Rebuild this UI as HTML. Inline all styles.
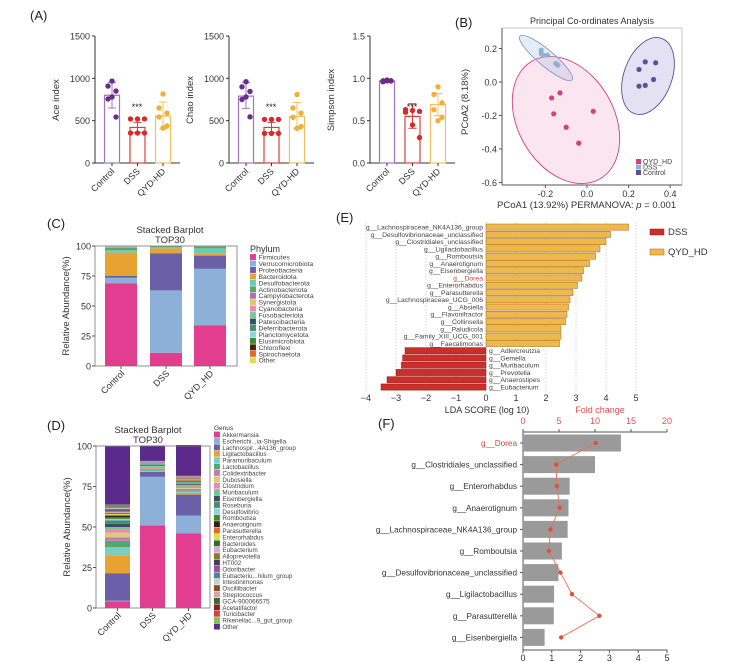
<!DOCTYPE html>
<html><head><meta charset="utf-8">
<style>
html,body{margin:0;padding:0;background:#fff;}
svg{display:block;font-family:"Liberation Sans",Arial,sans-serif;}
</style></head>
<body>
<svg id="fig" width="732" height="662" viewBox="0 0 732 662" xmlns="http://www.w3.org/2000/svg">
<rect x="0" y="0" width="732" height="662" fill="#fff"/>
</svg>
<script>
// ---------- Panel A data ----------
const alphaGroups = ['Control','DSS','QYD-HD'];
const aceMeans = [800,420,555];
const aceLo = [650,360,400];
const aceHi = [950,480,720];
const acePoints = [[968,909,850,780,756,543],[520,520,520,354,354,354],[815,650,590,543,437,413]];
const aceTicks = [0,500,1000,1500];
const chaoMeans = [790,420,550];
const chaoLo = [645,360,400];
const chaoHi = [950,480,715];
const chaoPoints = [[960,900,845,780,750,545],[515,515,515,350,350,350],[810,650,590,540,430,410]];
const chaoTicks = [0,500,1000,1500];
const simpMeans = [0.97,0.55,0.69];
const simpLo = [0.96,0.41,0.56];
const simpHi = [0.98,0.70,0.82];
const simpPoints = [[0.98,0.97,0.97,0.97,0.96,0.97],[0.63,0.62,0.61,0.60,0.45,0.30],[0.90,0.81,0.71,0.63,0.54,0.50]];
const simpTicks = [0,0.5,1.0,1.5];
const simpTickLabels = ['0.0','0.5','1.0','1.5'];
// ---------- Panel B data ----------
const pcoaGroups = ['QYD_HD','DSS','Control'];
const pcoaX = [[-0.17,-0.13,-0.16,-0.10,0.03,-0.04],[-0.22,-0.22,-0.21,-0.19,-0.15,-0.14],[0.25,0.28,0.33,0.32,0.25,0.28]];
const pcoaY = [[-0.095,-0.065,-0.19,-0.27,-0.175,-0.365],[0.19,0.17,0.16,0.16,0.11,0.10],[0.075,0.12,0.115,0.015,-0.025,-0.02]];
const pcoaXTicks = [-0.2,0.0,0.2,0.4];
const pcoaYTicks = [0.2,0.0,-0.2,-0.4,-0.6];
// ---------- Panel C data ----------
const stackGroups = ['Control','DSS','QYD_HD'];
const phyla = ['Firmicutes','Verrucomicrobiota','Proteobacteria','Bacteroidota','Desulfobacterota','Actinobacteriota','Campylobacterota','Synergistota','Cyanobacteria','Fusobacteriota','Patescibacteria','Deferribacterota','Planctomycetota','Elusimicrobiota','Chloroflexi','Spirochaetota','Other'];
const phylumControl = [69,4.5,1.5,19.5,2,2,0.5,0.3,0.2,0.2,0.1,0.1,0.1,0.0,0.0,0.0,0.0];
const phylumDSS = [11,52,31,4,1.2,0.5,0.1,0.1,0.1,0,0,0,0,0,0,0,0];
const phylumQYD = [34,47,11,2,4,1.5,0.2,0.1,0.1,0.1,0,0,0,0,0,0,0];
// ---------- Panel D data ----------
const genera = ['Akkermansia','Escherichi...ia-Shigella','Lachnospir...4A136_group','Ligilactobacillus','Paramuribaculum','Lactobacillus','Colidextribacter','Dubosiella','Clostridium','Muribaculum','Eisenbergiella','Roseburia','Desulfovibrio','Romboutsia','Anaerotignum','Parasutterella','Enterorhabdus','Bacteroides','Eubacterium','Alloprevotella','HT002','Odoribacter','Eubacteriu...hilum_group','Intestinimonas','Oscillibacter','Streptococcus','GCA-900066575','Acetatifactor','Turicibacter','Rikenellac...9_gut_group','Other'];
const genusControl = [4,0.5,17,11,5,4,2,3,2,1.5,2,2,1,1,0.8,0.8,0.6,0.6,0.5,0.5,0.5,0.5,0.5,0.4,0.4,0.4,0.4,0.3,0.3,0.3,36];
const genusDSS = [51,30,3,0.5,0.3,0.5,0.8,0.3,0.8,0.5,0.3,0.3,0.3,0.3,0.2,0.2,0.2,0.1,0.1,0.1,0.1,0.1,0.1,0.1,0.1,0.1,0.1,0.1,0.1,0.1,9.5];
const genusQYD = [46,11,13,1,1,0.5,1,0.5,1,1,0.5,0.5,0.5,0.8,0.3,0.3,0.3,0.3,0.2,0.2,0.2,0.2,0.2,0.2,0.2,0.2,0.2,0.1,0.1,0.1,19];
// ---------- Panel E data ----------
const ldaTaxa = ['g__Lachnospiraceae_NK4A136_group','g__Desulfovibrionaceae_unclassified','g__Clostridiales_unclassified','g__Ligilactobacillus','g__Romboutsia','g__Anaerotignum','g__Eisenbergiella','g__Dorea','g__Enterorhabdus','g__Parasutterella','g__Lachnospiraceae_UCG_006','g__Absiella','g__Flavonifractor','g__Collinsella','g__Paludicola','g__Family_XIII_UCG_001','g__Faecalimonas','g__Adlercreutzia','g__Gemella','g__Muribaculum','g__Prevotella','g__Anaerostipes','g__Eubacterium'];
const ldaScores = [4.75,4.15,4.0,3.8,3.65,3.45,3.25,3.2,3.05,2.9,2.8,2.75,2.7,2.65,2.5,2.5,2.45,-2.7,-2.78,-2.82,-3.0,-3.3,-3.5];
const ldaTicks = [-4,-3,-2,-1,0,1,2,3,4,5];
// ---------- Panel F data ----------
const fTaxa = ['g__Dorea','g__Clostridiales_unclassified','g__Enterorhabdus','g__Anaerotignum','g__Lachnospiraceae_NK4A136_group','g__Romboutsia','g__Desulfovibrionaceae_unclassified','g__Ligilactobacillus','g__Parasutterella','g__Eisenbergiella'];
const fBars = [3.4,2.5,1.62,1.58,1.55,1.35,1.23,1.08,1.07,0.75];
const fFold = [10.1,4.6,4.7,5.1,3.8,3.6,5.2,6.8,10.6,5.3];
const fTopTicks = [0,5,10,15,20];
const fBottomTicks = [0,1,2,3,4,5];

const NS='http://www.w3.org/2000/svg';
const svg=document.getElementById('fig');
function mk(tag,attrs,parent){const e=document.createElementNS(NS,tag);for(const k in attrs)e.setAttribute(k,attrs[k]);(parent||svg).appendChild(e);return e;}
function txt(x,y,s,attrs,parent){const e=mk('text',Object.assign({x:x,y:y},attrs||{}),parent);e.textContent=s;return e;}

// panel labels
[['(A)',30,20],['(B)',455,27],['(C)',47,228],['(D)',47,430],['(E)',336,222],['(F)',378,428]].forEach(function(p){
  const t=txt(p[1],p[2],p[0],{'font-size':13,fill:'#222'});
  
  
});

// ---------- Panel A ----------
const groupCol=['#6b2c8a','#d62b2b','#eeb035'];
const barEdge=['#a574bf','#d9403a','#f2c060'];
const jit=[[0,-4,4,0,-4,4],[-7,0,7,-7,0,7],[0,-4,4,-4,4,0]];
function drawAlpha(axX,yMax,ticks,tickLabels,means,lo,hi,pts,ylab,name){
  const g=mk('g',{});
  
  
  const y=v=>163-v/yMax*127;
  mk('line',{x1:axX,y1:36,x2:axX,y2:163,stroke:'#333','stroke-width':1},g);
  mk('line',{x1:axX,y1:163,x2:axX+85,y2:163,stroke:'#333','stroke-width':1},g);
  ticks.forEach(function(t,i){
    mk('line',{x1:axX-3,y1:y(t),x2:axX,y2:y(t),stroke:'#333'},g);
    const tl=txt(axX-5,y(t)+3.5,tickLabels[i],{'font-size':9,'text-anchor':'end',fill:'#333'},g);
    
    
  });
  const yl=txt(0,0,ylab,{'font-size':9.5,'text-anchor':'middle',fill:'#333',transform:'translate('+(axX-36)+',100) rotate(-90)'},g);
  
  
  for(let i=0;i<3;i++){
    const cx=axX+17+i*25.5;
    const b=mk('rect',{x:cx-7.5,y:y(means[i]),width:15,height:163-y(means[i]),fill:'none',stroke:barEdge[i],'stroke-width':1.2},g);
    
    
    mk('line',{x1:cx,y1:y(lo[i]),x2:cx,y2:y(hi[i]),stroke:barEdge[i],'stroke-width':1},g);
    mk('line',{x1:cx-4,y1:y(hi[i]),x2:cx+4,y2:y(hi[i]),stroke:barEdge[i],'stroke-width':1},g);
    mk('line',{x1:cx-4,y1:y(lo[i]),x2:cx+4,y2:y(lo[i]),stroke:barEdge[i],'stroke-width':1},g);
    pts[i].forEach(function(v,k){
      const c=mk('circle',{cx:cx+jit[i][k],cy:y(v),r:2.7,fill:groupCol[i]},g);
      
      
    });
    mk('line',{x1:cx,y1:163,x2:cx,y2:166,stroke:'#333'},g);
    const xl=txt(0,0,alphaGroups[i],{'font-size':9,'text-anchor':'end',fill:'#333',transform:'translate('+(cx+3)+',172) rotate(-45)'},g);
    
    
  }
  const s=txt(axX+42,110,'***',{'font-size':9,'text-anchor':'middle',fill:'#222'},g);
  
  
}
drawAlpha(95,1500,aceTicks,['0','500','1000','1500'],aceMeans,aceLo,aceHi,acePoints,'Ace index','ace');
drawAlpha(229,1500,chaoTicks,['0','500','1000','1500'],chaoMeans,chaoLo,chaoHi,chaoPoints,'Chao index','chao');
drawAlpha(370,1.5,simpTicks,simpTickLabels,simpMeans,simpLo,simpHi,simpPoints,'Simpson index','simpson');

// ---------- Panel B ----------
(function(){
  const g=mk('g',{});
  
  
  const px=v=>587+208*v, py=v=>82-167.5*v;
  const t=txt(592,24,'Principal Co-ordinates Analysis',{'font-size':9,'text-anchor':'middle',fill:'#333'},g);
  
  
  mk('rect',{x:502,y:28,width:180,height:157,fill:'none',stroke:'#bbb','stroke-width':0.8},g);
  mk('line',{x1:502,y1:28,x2:502,y2:185,stroke:'#555'},g);
  mk('line',{x1:502,y1:185,x2:682,y2:185,stroke:'#555'},g);
  const ell=[{cx:566,cy:120,a:68,b:48,r:60,f:'rgba(232,110,160,0.18)',s:'#d6407a'},{cx:546,cy:58,a:34,b:8,r:40,f:'rgba(150,180,220,0.25)',s:'#7f9fc8'},{cx:648,cy:76,a:40,b:24,r:-70,f:'rgba(120,110,190,0.2)',s:'#5b4f9e'}];
  ell.forEach(function(e,i){
    const el=mk('ellipse',{cx:e.cx,cy:e.cy,rx:e.a,ry:e.b,fill:e.f,stroke:e.s,'stroke-width':0.9,transform:'rotate('+e.r+' '+e.cx+' '+e.cy+')'},g);
    
    
  });
  const pc=['#d6407a','#8fb0d8','#5e4f9e'];
  pcoaX.forEach(function(arr,gi){arr.forEach(function(v,k){
    const c=mk('circle',{cx:px(v),cy:py(pcoaY[gi][k]),r:2.6,fill:pc[gi]},g);
    
    
  });});
  pcoaXTicks.forEach(function(v){
    mk('line',{x1:px(v),y1:185,x2:px(v),y2:188,stroke:'#555'},g);
    const l=txt(px(v),197,v.toFixed(1),{'font-size':9,'text-anchor':'middle',fill:'#333'},g);
    
    
  });
  pcoaYTicks.forEach(function(v){
    mk('line',{x1:499,y1:py(v),x2:502,y2:py(v),stroke:'#555'},g);
    const l=txt(497,py(v)+3.5,v.toFixed(1),{'font-size':9,'text-anchor':'end',fill:'#333'},g);
    
    
  });
  const yl=txt(0,0,'PCoA2 (8.18%)',{'font-size':9.5,'text-anchor':'middle',fill:'#333',transform:'translate(468,102) rotate(-90)'},g);
  
  
  const xl=txt(497,208,'PCoA1 (13.92%)  PERMANOVA: ',{'font-size':9.5,fill:'#333'},g);
  const it=mk('tspan',{'font-style':'italic'},xl); it.textContent='p';
  const rest=mk('tspan',{},xl); rest.textContent=' = 0.001';
  
  
  pcoaGroups.forEach(function(n,i){
    const r=mk('rect',{x:636,y:159+i*5.5,width:5,height:5,fill:pc[i]},g);
    
    
    const l=txt(643,164+i*5.5,n,{'font-size':7,fill:'#444'},g);
    
    
  });
})();

// ---------- Stacked bars (C, D) ----------
const phylumCols=['#e23d8e','#8db0d9','#6b5fa8','#e8a232','#6ccab8','#54a86a','#b76ab1','#d8c96b','#ef88ad','#7cc79a','#3d4b63','#4a8a6e','#8ed3de','#3c8c2e','#4a2410','#e06a2a','#d8e04a'];
const genusCols=['#e23d8e','#8db0d9','#6b5fa8','#e8a232','#7ccfc0','#55a86a','#c27ab8','#d9cc70','#ef88ad','#76c592','#3d4b63','#4a8a6e','#8ed3de','#3c8c2e','#3a1e10','#e06a2a','#d8e04a','#2f6a32','#d9a8cf','#8a7a30','#4a3d50','#a04aa0','#4f7fa8','#c8d0c0','#8a4a22','#e0a0a0','#3a6a2a','#8a2020','#d84040','#8cc04a','#5b2a8a'];
function drawStack(name,groups,series,cols,labels,legTitle,o){
  const g=mk('g',{});
  
  
  const y=v=>o.y0-v*o.k;
  const t1=txt(o.tx,o.ty,'Stacked Barplot',{'font-size':9.5,'text-anchor':'middle',fill:'#333'},g);
  
  
  txt(o.tx,o.ty+10,'TOP30',{'font-size':9.5,'text-anchor':'middle',fill:'#333'},g);
  series.forEach(function(vals,gi){
    let acc=0;
    vals.forEach(function(v,k){
      if(v<=0)return;
      const r=mk('rect',{x:o.bx[gi],y:y(acc+v),width:o.bw,height:v*o.k,fill:cols[k]},g);
      
      
      acc+=v;
    });
    const xl=txt(0,0,groups[gi],{'font-size':9,'text-anchor':'end',fill:'#333',transform:'translate('+(o.bx[gi]+o.bw/2+4)+','+(o.y0+8)+') rotate(-45)'},g);
    
    
    mk('line',{x1:o.bx[gi]+o.bw/2,y1:o.y0,x2:o.bx[gi]+o.bw/2,y2:o.y0+3,stroke:'#555'},g);
  });
  mk('rect',{x:o.ax,y:y(100),width:o.aw,height:100*o.k,fill:'none',stroke:'#777','stroke-width':0.8},g);
  [0,25,50,75,100].forEach(function(v){
    mk('line',{x1:o.ax-3,y1:y(v),x2:o.ax,y2:y(v),stroke:'#555'},g);
    const l=txt(o.ax-4,y(v)+3.5,String(v),{'font-size':9,'text-anchor':'end',fill:'#333'},g);
    
    
  });
  const yl=txt(0,0,'Relative Abundance(%)',{'font-size':9.5,'text-anchor':'middle',fill:'#333',transform:'translate('+(o.ax-26)+','+y(50)+') rotate(-90)'},g);
  
  
  const lt=txt(o.lx,o.ly,legTitle,{'font-size':o.ltf,fill:'#333'},g);
  
  
  labels.forEach(function(n,i){
    const yy=o.ly+o.l0+i*o.ls;
    const r=mk('rect',{x:o.lx,y:yy-o.ls+1,width:o.ls-0.5,height:o.ls-0.5,fill:cols[i]},g);
    
    
    const l=txt(o.lx+o.ls+2,yy,n,{'font-size':o.lf,fill:'#444'},g);
    
    
  });
}
drawStack('phylum-stacked-barplot',stackGroups,[phylumControl,phylumDSS,phylumQYD],phylumCols,phyla,'Phylum',
  {y0:366,k:1.2,bx:[105,150,194],bw:32,ax:95,aw:142,tx:170,ty:233,lx:250,ly:252,ltf:9,l0:7.5,ls:6.45,lf:6.8});
drawStack('genus-stacked-barplot',stackGroups,[genusControl,genusDSS,genusQYD],genusCols,genera,'Genus',
  {y0:608,k:1.62,bx:[105,140,176],bw:25,ax:96,aw:114,tx:148,ty:433,lx:214,ly:430,ltf:6.5,l0:7,ls:6.4,lf:6.3});

// ---------- Panel E ----------
(function(){
  const g=mk('g',{});
  
  
  const x=v=>486+30*v;
  const rowY=i=>227+i*7.27;
  ldaTicks.forEach(function(v){
    mk('line',{x1:x(v),y1:222,x2:x(v),y2:392,stroke:'#bbb','stroke-width':0.6,'stroke-dasharray':'1.5,1.5'},g);
    const l=txt(x(v),401,v<0?'\u2212'+(-v):String(v),{'font-size':9,'text-anchor':'middle',fill:'#333'},g);
    
    
  });
  ldaScores.forEach(function(v,i){
    const pos=v>=0;
    const b=mk('rect',{x:pos?x(0):x(v),y:rowY(i)-3,width:Math.abs(v)*30,height:6.2,fill:pos?'#f0b84a':'#cc2f2a',stroke:pos?'#9a6a1a':'#8a1a18','stroke-width':0.5},g);
    
    
    const l=txt(pos?x(0)-3:x(0)+3,rowY(i)+2.5,ldaTaxa[i],{'font-size':6.8,'text-anchor':pos?'end':'start',fill:ldaTaxa[i]==='g__Dorea'?'#e04040':'#444'},g);
    
    
  });
  const xl=txt(487,413,'LDA SCORE (log 10)',{'font-size':9,'text-anchor':'middle',fill:'#333'},g);
  
  
  [['DSS','#cc2f2a','#8a1a18',229],['QYD_HD','#f0b84a','#9a6a1a',249]].forEach(function(e){
    const r=mk('rect',{x:650,y:e[3],width:14,height:6,fill:e[1],stroke:e[2],'stroke-width':0.5},g);
    
    
    const l=txt(668,e[3]+6,e[0],{'font-size':9.5,fill:'#333'},g);
    
    
  });
})();

// ---------- Panel F ----------
(function(){
  const g=mk('g',{});
  
  
  const xb=v=>523+28.8*v, xt=v=>523+7.2*v;
  const rowY=i=>443+i*21.6;
  const ft=txt(600,413,'Fold change',{'font-size':9,'text-anchor':'middle',fill:'#e05050'},g);
  
  
  mk('line',{x1:523,y1:432,x2:667,y2:432,stroke:'#555'},g);
  fTopTicks.forEach(function(v){
    mk('line',{x1:xt(v),y1:429,x2:xt(v),y2:432,stroke:'#555'},g);
    const l=txt(xt(v),424,String(v),{'font-size':9,'text-anchor':'middle',fill:'#e05050'},g);
    
    
  });
  mk('line',{x1:523,y1:432,x2:523,y2:650,stroke:'#555'},g);
  mk('line',{x1:523,y1:650,x2:667,y2:650,stroke:'#555'},g);
  fBottomTicks.forEach(function(v){
    mk('line',{x1:xb(v),y1:650,x2:xb(v),y2:653,stroke:'#555'},g);
    const l=txt(xb(v),661,String(v),{'font-size':9,'text-anchor':'middle',fill:'#333'},g);
    
    
  });
  fBars.forEach(function(v,i){
    const b=mk('rect',{x:523,y:rowY(i)-8.5,width:v*28.8,height:17,fill:'#9a9a9a'},g);
    
    
    mk('line',{x1:520,y1:rowY(i),x2:523,y2:rowY(i),stroke:'#555'},g);
    const l=txt(517,rowY(i)+3,fTaxa[i],{'font-size':8.2,'text-anchor':'end',fill:i===0?'#e04040':'#333'},g);
    
    
  });
  const pts=fFold.map(function(v,i){return xt(v)+','+rowY(i);}).join(' ');
  const pl=mk('polyline',{points:pts,fill:'none',stroke:'#e8705a','stroke-width':0.9},g);
  
  
  fFold.forEach(function(v,i){
    const c=mk('circle',{cx:xt(v),cy:rowY(i),r:2.2,fill:'#e0503a'},g);
    
    
  });
})();
</script>
</body></html>
